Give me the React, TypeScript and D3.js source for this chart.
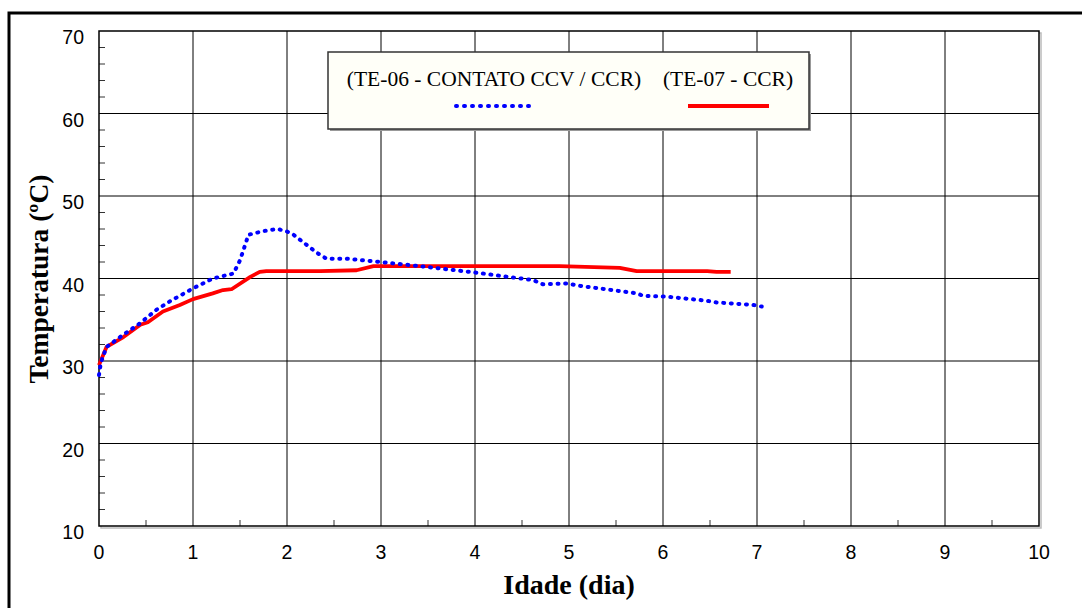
import React from "react";
import * as d3 from "d3";

const te06Days = [0, 0.02, 0.08, 0.26, 0.44, 0.61, 0.75, 1.0, 1.21, 1.43, 1.5, 1.59, 1.75, 1.9, 2.0, 2.07, 2.32, 2.42, 2.63, 2.99, 3.41, 4.02, 4.62, 4.72, 4.98, 5.12, 5.72, 5.79, 6.04, 6.47, 6.57, 6.96, 7.05];
const te06Temp = [28.3, 29.8, 31.7, 33.2, 34.6, 36.2, 37.2, 38.8, 40.0, 40.6, 42.2, 45.3, 45.75, 46.0, 45.7, 45.3, 43.1, 42.4, 42.4, 42.0, 41.5, 40.7, 39.8, 39.3, 39.4, 39.1, 38.2, 37.9, 37.8, 37.3, 37.1, 36.8, 36.6];

const te07Days = [0, 0.08, 0.26, 0.44, 0.52, 0.68, 0.86, 1.0, 1.21, 1.32, 1.41, 1.61, 1.71, 1.78, 2.35, 2.74, 2.92, 4.9, 5.54, 5.72, 6.47, 6.57, 6.72];
const te07Temp = [29.5, 31.7, 32.9, 34.4, 34.7, 36.0, 36.8, 37.5, 38.2, 38.6, 38.7, 40.2, 40.8, 40.9, 40.9, 41.0, 41.5, 41.5, 41.3, 40.9, 40.9, 40.8, 40.8];

const xTicks = [0, 1, 2, 3, 4, 5, 6, 7, 8, 9, 10];
const yTicks = [10, 20, 30, 40, 50, 60, 70];
const xMinor = [0.5, 1.5, 2.5, 3.5, 4.5, 5.5, 6.5, 7.5, 8.5, 9.5];
const yMinor = d3.range(12, 70, 2).filter((v) => v % 10 !== 0);

const legendLabels = ["(TE-06 - CONTATO CCV / CCR)", "(TE-07 - CCR)"];

export default function App() {
  const W = 1082, H = 608;
  const L = 99, R = 1039, T = 31, B = 526;
  const x = d3.scaleLinear().domain([0, 10]).range([L, R]);
  const y = d3.scaleLinear().domain([10, 70]).range([B, T]);
  const line = d3.line<[number, number]>().x((d) => x(d[0])).y((d) => y(d[1]));
  const s06 = te06Days.map((d, i) => [d, te06Temp[i]] as [number, number]);
  const s07 = te07Days.map((d, i) => [d, te07Temp[i]] as [number, number]);
  const serif = "'Liberation Serif', 'Times New Roman', serif";
  const sans = "'Liberation Sans', Arial, sans-serif";

  return (
    <svg width={W} height={H} style={{ position: "absolute", left: 0, top: 0, background: "#fff" }}>
      {/* outer frame */}
      <rect x={9} y={13} width={W + 20} height={H + 20} fill="none" stroke="#000" strokeWidth={3} />
      {/* plot shadow */}
      <rect x={L + 2} y={T + 2} width={R - L} height={B - T} fill="none" stroke="#bbb" strokeWidth={1.5} />
      <rect x={L} y={T} width={R - L} height={B - T} fill="#fff" stroke="none" />
      {/* grid */}
      {xTicks.slice(1, -1).map((t) => (
        <line key={"gx" + t} x1={x(t)} x2={x(t)} y1={T} y2={B} stroke="#000" strokeWidth={1} />
      ))}
      {yTicks.slice(1, -1).map((t) => (
        <line key={"gy" + t} x1={L} x2={R} y1={y(t)} y2={y(t)} stroke="#000" strokeWidth={1} />
      ))}
      {/* minor ticks */}
      {xMinor.map((t) => (
        <line key={"mx" + t} x1={x(t)} x2={x(t)} y1={B} y2={B - 6} stroke="#333" strokeWidth={1} />
      ))}
      {yMinor.map((t) => (
        <line key={"my" + t} x1={L} x2={L + 6} y1={y(t)} y2={y(t)} stroke="#333" strokeWidth={1} />
      ))}
      <rect x={L} y={T} width={R - L} height={B - T} fill="none" stroke="#000" strokeWidth={1.5} />
      {/* tick labels */}
      {yTicks.map((t) => (
        <text key={"yl" + t} x={84} y={y(t) + 13} textAnchor="end" fontFamily={sans} fontSize={19.5}>{t}</text>
      ))}
      {xTicks.map((t) => (
        <text key={"xl" + t} x={x(t)} y={B + 33} textAnchor="middle" fontFamily={sans} fontSize={19.5}>{t}</text>
      ))}
      {/* series */}
      <path d={line(s07) || ""} fill="none" stroke="#ff0000" strokeWidth={3.8} strokeLinejoin="round" />
      <path d={line(s06) || ""} fill="none" stroke="#0000ff" strokeWidth={4} strokeDasharray="1,6.6" strokeLinecap="round" />
      {/* legend */}
      <rect x={330} y={54} width={481} height={77} fill="#999" />
      <rect x={328} y={52} width={481} height={77} fill="#fffff8" stroke="#333" strokeWidth={1.5} />
      <text x={494} y={86} textAnchor="middle" fontFamily={serif} fontSize={21.5}>{legendLabels[0]}</text>
      <text x={728} y={86} textAnchor="middle" fontFamily={serif} fontSize={21.5}>{legendLabels[1]}</text>
      <line x1={456} x2={536} y1={106} y2={106} stroke="#0000ff" strokeWidth={4} strokeDasharray="1,7" strokeLinecap="round" />
      <line x1={688} x2={769} y1={106} y2={106} stroke="#ff0000" strokeWidth={3.8} />
      {/* axis titles */}
      <text x={569} y={594} textAnchor="middle" fontFamily={serif} fontWeight="bold" fontSize={28}>Idade (dia)</text>
      <text transform={`translate(48, 279) rotate(-90)`} textAnchor="middle" fontFamily={serif} fontWeight="bold" fontSize={27.5}>Temperatura (ºC)</text>
    </svg>
  );
}
